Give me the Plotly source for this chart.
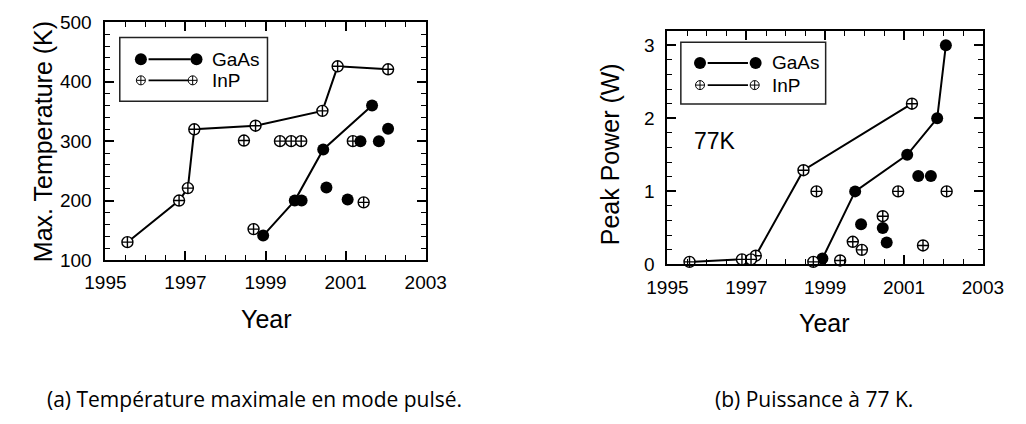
import plotly.graph_objects as go

# ---------------- data: (a) max temperature ----------------
a_inp_line_year = [1995.55, 1996.84, 1997.06, 1997.22, 1998.75, 2000.42, 2000.80, 2002.06]
a_inp_line_temp = [130, 200, 221, 320, 326, 351, 426, 421]
a_inp_pts_year = [1998.46, 1999.36, 1999.64, 1999.89, 1998.70, 2001.18, 2001.45]
a_inp_pts_temp = [301, 300, 300, 300, 152, 300, 197]
a_gaas_line_year = [1998.94, 1999.73, 2000.44, 2001.66]
a_gaas_line_temp = [141, 200, 286, 360]
a_gaas_pts_year = [1999.90, 2000.52, 2001.05, 2001.37, 2001.83, 2002.06]
a_gaas_pts_temp = [200, 222, 202, 300, 300, 321]

# ---------------- data: (b) peak power at 77 K ----------------
b_inp_line_year = [1995.56, 1996.89, 1997.24, 1998.45, 2001.20]
b_inp_line_pow = [0.035, 0.07, 0.12, 1.29, 2.2]
b_inp_pts_year = [1997.12, 1998.70, 1998.78, 1999.38, 1999.70, 1999.93, 2000.46, 2000.85, 2001.48, 2002.08]
b_inp_pts_pow = [0.07, 0.035, 1.0, 0.055, 0.31, 0.2, 0.66, 1.0, 0.26, 1.0]
b_gaas_line_year = [1998.93, 1999.76, 2001.08, 2001.84, 2002.06]
b_gaas_line_pow = [0.08, 1.0, 1.5, 2.0, 3.0]
b_gaas_pts_year = [1999.91, 2000.46, 2000.56, 2001.36, 2001.68]
b_gaas_pts_pow = [0.55, 0.5, 0.3, 1.21, 1.21]

x_ticks = [1995, 1997, 1999, 2001, 2003]
legend_labels = ["GaAs", "InP"]

W, H = 1026, 424
FONT = "Arial"
CAP_FONT = "Open Sans"

def px_dom(x0, x1, y0, y1):
    return [x0 / W, x1 / W], [1 - y1 / H, 1 - y0 / H]

fig = go.Figure()

gaas_marker = dict(symbol="circle", size=12, color="black")
inp_marker = dict(symbol="circle-cross", size=11, color="white", line=dict(color="black", width=1.4))
line_style = dict(color="black", width=2)

def add_panel(xa, ya, gl_x, gl_y, gp_x, gp_y, il_x, il_y, ip_x, ip_y):
    fig.add_trace(go.Scatter(x=gl_x, y=gl_y, mode="lines+markers", line=line_style, marker=gaas_marker,
                             xaxis=xa, yaxis=ya, showlegend=False, cliponaxis=False))
    fig.add_trace(go.Scatter(x=il_x, y=il_y, mode="lines+markers", line=line_style, marker=inp_marker,
                             xaxis=xa, yaxis=ya, showlegend=False, cliponaxis=False))
    fig.add_trace(go.Scatter(x=ip_x, y=ip_y, mode="markers", marker=inp_marker,
                             xaxis=xa, yaxis=ya, showlegend=False, cliponaxis=False))
    fig.add_trace(go.Scatter(x=gp_x, y=gp_y, mode="markers", marker=gaas_marker,
                             xaxis=xa, yaxis=ya, showlegend=False, cliponaxis=False))

add_panel("x", "y", a_gaas_line_year, a_gaas_line_temp, a_gaas_pts_year, a_gaas_pts_temp,
          a_inp_line_year, a_inp_line_temp, a_inp_pts_year, a_inp_pts_temp)
add_panel("x2", "y2", b_gaas_line_year, b_gaas_line_pow, b_gaas_pts_year, b_gaas_pts_pow,
          b_inp_line_year, b_inp_line_pow, b_inp_pts_year, b_inp_pts_pow)

# ---------------- custom legends (pixel overlay axes x3/y3) ----------------
shapes = []
annotations = []
for (bx0, bx1, by0, by1, r1, r2, m1, lx0, lx1, m2a, m2b, tx) in [
        (103, 257, 29, 96, 51.7, 74, 125, 133, 177, 183, 179, 197),
        (688, 839, 34, 99, 55.7, 79, 708, 716, 758, 766, 765, 781)]:
    shapes.append(dict(type="rect", xref="x3", yref="y3", x0=bx0, x1=bx1, y0=by0, y1=by1,
                       line=dict(color="#222", width=1.5)))
    fig.add_trace(go.Scatter(x=[lx0, lx1], y=[r1, r1], mode="lines", line=line_style,
                             xaxis="x3", yaxis="y3", showlegend=False, hoverinfo="skip"))
    fig.add_trace(go.Scatter(x=[lx0, lx1], y=[r2, r2], mode="lines", line=dict(color="black", width=1.6),
                             xaxis="x3", yaxis="y3", showlegend=False, hoverinfo="skip"))
    fig.add_trace(go.Scatter(x=[m1, m2a], y=[r1, r1], mode="markers", marker=gaas_marker,
                             xaxis="x3", yaxis="y3", showlegend=False, hoverinfo="skip"))
    fig.add_trace(go.Scatter(x=[m1, m2b], y=[r2, r2], mode="markers",
                             marker=dict(symbol="circle-cross", size=9, color="white",
                                         line=dict(color="black", width=1)),
                             xaxis="x3", yaxis="y3", showlegend=False, hoverinfo="skip"))
    for lab, ry in zip(legend_labels, [r1, r2]):
        annotations.append(dict(xref="x3", yref="y3", x=tx, y=ry, text=lab, showarrow=False,
                                xanchor="left", yanchor="middle", font=dict(family=FONT, size=19, color="black")))

def txt(x, y, s, size, angle=0, family=FONT):
    annotations.append(dict(xref="x3", yref="y3", x=x, y=y, text=s, showarrow=False, textangle=angle,
                            xanchor="center", yanchor="middle", font=dict(family=family, size=size, color="black")))

txt(23, 139, "Max. Temperature (K)", 25, -90)
txt(615, 152, "Peak Power (W)", 25, -90)
txt(256, 325, "Year", 25)
txt(838, 329, "Year", 25)
txt(724, 138, "77K", 23)
txt(243, 409, "(a) Température maximale en mode pulsé.", 21, family=CAP_FONT)
txt(827, 409, "(b) Puissance à 77 K.", 21, family=CAP_FONT)

def axis_style(rng, dtick, minor, dom, anchor, tick0=None, standoff=6):
    d = dict(range=rng, dtick=dtick, domain=dom, anchor=anchor, ticks="inside", ticklen=9, tickwidth=1.5,
             tickcolor="black", showline=True, linewidth=2, linecolor="black", mirror="allticks",
             showgrid=False, zeroline=False, tickfont=dict(family=FONT, size=19, color="black"),
             minor=dict(dtick=minor, ticks="inside", ticklen=5, tickwidth=1.3, tickcolor="black", showgrid=False),
             ticklabelstandoff=standoff)
    if tick0 is not None:
        d["tick0"] = tick0
    return d

xd1, yd1 = px_dom(88, 422, 13, 263)
xd2, yd2 = px_dom(674, 1003, 21.7, 267.7)

fig.update_layout(
    width=W, height=H, margin=dict(l=0, r=0, t=0, b=0), autosize=False,
    paper_bgcolor="white", plot_bgcolor="rgba(0,0,0,0)", showlegend=False,
    xaxis=axis_style([1995, 2003], 2, 0.5, xd1, "y", tick0=1995, standoff=4),
    yaxis=axis_style([100, 500], 100, 20, yd1, "x", standoff=8),
    xaxis2=axis_style([1995, 2003], 2, 0.5, xd2, "y2", tick0=1995, standoff=5),
    yaxis2=axis_style([0, 3.2], 1, 0.2, yd2, "x2", standoff=7),
    xaxis3=dict(domain=[0, 1], range=[0, W], visible=False, anchor="y3", fixedrange=True),
    yaxis3=dict(domain=[0, 1], range=[H, 0], visible=False, anchor="x3", fixedrange=True),
    shapes=shapes, annotations=annotations,
)
fig.update_xaxes(tickvals=x_ticks, selector=dict(anchor="y"))
fig.update_xaxes(tickvals=x_ticks, selector=dict(anchor="y2"))

fig.write_html("out.html", config={"displayModeBar": False},
               post_script="document.body.style.margin='0';document.body.style.overflow='hidden';")
